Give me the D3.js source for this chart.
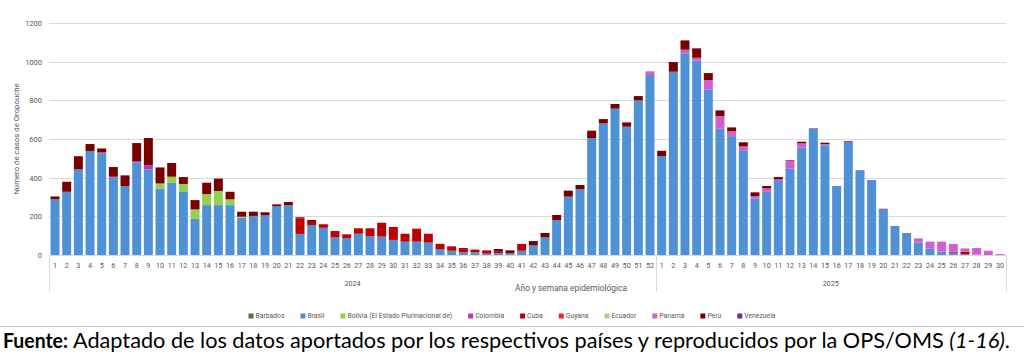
<!DOCTYPE html>
<html><head><meta charset="utf-8">
<script src="https://cdn.jsdelivr.net/npm/d3@7"></script>
<style>body{margin:0;background:#fff}svg{display:block}</style>
</head><body><svg id="c" width="1024" height="356"></svg>
<script>
// Week labels: 2024 weeks 1-52, 2025 weeks 1-30
const weeks2024 = ["1","2","3","4","5","6","7","8","9","10","11","12","13","14","15","16","17","18","19","20","21","22","23","24","25","26","27","28","29","30","31","32","33","34","35","36","37","38","39","40","41","42","43","44","45","46","47","48","49","50","51","52"];
const weeks2025 = ["1","2","3","4","5","6","7","8","9","10","11","12","13","14","15","16","17","18","19","20","21","22","23","24","25","26","27","28","29","30"];
const years = ["2024","2025"];
const yTicks = [0,200,400,600,800,1000,1200];
const countries = ["Barbados","Brasil","Bolivia (El Estado Plurinacional de)","Colombia","Cuba","Guyana","Ecuador","Panamá","Perú","Venezuela"];

const barbados = [0,0,0,0,0,0,0,0,0,0,0,0,0,0,0,0,0,0,0,0,0,0,0,0,0,0,0,0,0,0,0,0,0,0,0,0,0,0,0,0,0,0,0,0,0,0,0,0,0,0,0,0,
  0,0,0,0,0,0,0,0,0,0,0,0,0,0,0,0,0,0,0,0,0,0,0,0,0,0,0,0,0,0];
const brasil = [288,327,443,538,526,400,357,479,443,343,374,329,186,258,258,258,193,202,205,253,258,109,155,141,91,88,110,98,95,78,69,69,64,31,22,14,14,7,10,9,22,50,91,181,302,340,605,681,757,664,800,931,
  512,948,1043,1005,857,653,615,539,293,327,383,446,555,653,567,357,584,439,388,234,150,109,65,34,17,12,5,2,0,0];
const bolivia = [0,0,0,0,0,0,0,0,0,27,31,38,50,57,73,30,5,0,0,0,0,0,0,0,0,0,0,0,0,0,0,0,0,0,0,0,0,0,0,0,0,0,0,0,0,0,0,0,0,0,0,0,
  0,0,0,0,0,0,0,0,0,0,0,0,0,0,0,0,0,0,0,0,0,0,0,0,0,0,0,0,0,0];
const colombia = [0,0,0,0,5,5,0,5,22,0,0,0,0,0,0,0,0,0,0,0,0,0,0,0,0,0,0,0,0,0,0,0,0,0,0,0,0,0,0,0,0,0,0,0,0,0,0,0,0,0,0,0,
  0,0,0,0,0,0,0,0,0,0,0,0,0,0,0,0,0,0,0,0,0,0,0,0,0,0,0,0,0,0];
const cuba = [0,0,0,0,0,0,0,0,0,0,0,0,0,0,0,0,0,0,0,0,0,81,16,18,33,19,28,40,72,67,41,67,46,27,23,22,14,17,10,0,35,0,0,0,0,0,0,0,0,0,0,0,
  0,0,0,0,0,0,0,0,0,0,0,0,0,0,0,0,0,0,0,0,0,0,0,0,0,5,12,0,0,0];
const guyana = [0,0,0,0,0,0,0,0,0,0,0,0,0,0,0,0,0,0,0,0,0,0,0,0,0,0,0,0,0,0,0,0,0,0,0,0,0,0,0,0,0,0,0,0,0,0,0,0,0,0,0,0,
  0,0,0,0,0,0,0,0,0,0,0,0,0,0,0,0,0,0,0,0,0,0,0,0,0,0,0,0,0,0];
const ecuador = [0,0,0,0,0,0,0,0,0,0,0,0,0,0,0,0,0,0,0,0,0,0,0,0,0,0,0,0,0,0,0,0,0,0,0,0,0,0,0,0,0,0,0,0,0,0,0,0,0,0,0,0,
  0,0,0,0,0,0,0,0,0,0,0,0,0,0,0,0,0,0,0,0,0,0,0,0,0,0,0,0,0,0];
const panama = [0,0,0,0,0,0,0,0,0,0,0,0,0,0,0,0,0,0,0,0,0,0,0,0,0,0,0,0,0,0,0,0,0,0,0,0,0,0,0,0,0,0,0,0,0,0,0,0,0,0,0,19,
  0,0,19,15,48,66,25,23,12,18,8,42,22,0,6,0,0,0,0,2,0,0,21,35,52,40,17,34,22,5];
const peru = [15,52,68,36,20,50,55,95,140,83,71,36,48,59,64,39,26,22,16,9,16,5,10,0,0,0,0,0,0,0,0,0,0,0,0,0,0,0,11,15,0,22,23,26,31,22,38,22,24,22,22,0,
  27,50,48,49,36,29,20,21,19,12,12,3,9,2,8,0,4,0,0,3,0,3,0,0,0,0,0,0,0,0];
const venezuela = [0,0,0,0,0,0,0,0,0,0,0,0,0,0,0,0,0,0,0,0,0,0,0,0,0,0,0,0,0,0,0,0,0,0,0,0,0,0,0,0,0,0,0,0,0,0,0,0,0,0,0,0,
  0,0,0,0,0,0,0,0,0,0,0,0,0,0,0,0,0,0,0,0,0,0,0,0,0,0,0,0,0,0];

const seriesValues = [barbados,brasil,bolivia,colombia,cuba,guyana,ecuador,panama,peru,venezuela];
const colors = ["#4f7a2a","#4e91d6","#92d050","#b53cb5","#c00000","#ff1f1f","#a9d18e","#d05fd0","#7a0000","#6a2d96"];

const labels = weeks2024.concat(weeks2025);
const yearOf = labels.map((d,i)=> i < weeks2024.length ? years[0] : years[1]);
const rows = labels.map((w,i)=>{ const r={idx:i}; countries.forEach((c,k)=>r[c]=seriesValues[k][i]); return r; });

const svg = d3.select("#c");
svg.append("rect").attr("width",1024).attr("height",356).attr("fill","#fff");

const L=49.2, R=1005.8, T=23, B=255;
const x = d3.scaleBand().domain(d3.range(labels.length)).range([L,R]).paddingInner(0.23).paddingOuter(0.115);
const y = d3.scaleLinear().domain([0,1200]).range([B,T]);
const grey="#595959";

// gridlines
svg.append("g").selectAll("line").data(yTicks).join("line")
  .attr("x1",L).attr("x2",R).attr("y1",d=>Math.round(y(d))+0.5).attr("y2",d=>Math.round(y(d))+0.5)
  .attr("stroke","#d9d9d9").attr("stroke-width",1);
// y labels
svg.append("g").selectAll("text").data(yTicks).join("text")
  .attr("x",42).attr("y",d=>y(d)+3).attr("text-anchor","end")
  .attr("font-family","Roboto, sans-serif").attr("font-size",7.5).attr("fill",grey).text(d=>d);
svg.append("text").attr("transform","translate(19,139) rotate(-90)").attr("text-anchor","middle")
  .attr("font-family","Roboto, sans-serif").attr("font-size",7.8).attr("fill",grey).text("Número de casos de Oropouche");

// stacked bars
const stack = d3.stack().keys(countries)(rows);
svg.append("g").selectAll("g").data(stack).join("g").attr("fill",(d,i)=>colors[i])
  .selectAll("rect").data(d=>d.filter(s=>s[1]-s[0]>0)).join("rect")
  .attr("x",d=>x(d.data.idx)).attr("width",x.bandwidth())
  .attr("y",d=>y(d[1])).attr("height",d=>y(d[0])-y(d[1]));

// x tick labels
svg.append("g").selectAll("text").data(labels).join("text")
  .attr("x",(d,i)=>x(i)+x.bandwidth()/2).attr("y",268).attr("text-anchor","middle")
  .attr("font-family","Roboto, sans-serif").attr("font-size",7.2).attr("fill",grey).text(d=>d);

// year group separators and labels
const groupEdges = years.map(yr=>{
  const idx = yearOf.map((v,i)=>v===yr?i:-1).filter(i=>i>=0);
  const a = x(idx[0]) - x.step()*x.paddingInner()/2;
  const b = x(idx[idx.length-1]) + x.bandwidth() + x.step()*x.paddingInner()/2;
  return {yr,a,b};
});
const sepX = [groupEdges[0].a, groupEdges[1].a, groupEdges[1].b].map(v=>Math.round(v)+0.5);
svg.append("g").selectAll("line").data(sepX).join("line")
  .attr("x1",d=>d).attr("x2",d=>d).attr("y1",B).attr("y2",291)
  .attr("stroke","#d9d9d9").attr("stroke-width",1);
svg.append("g").selectAll("text").data(groupEdges).join("text")
  .attr("x",d=>(d.a+d.b)/2).attr("y",286).attr("text-anchor","middle")
  .attr("font-family","Roboto, sans-serif").attr("font-size",7.2).attr("fill",grey).text(d=>d.yr);
svg.append("text").attr("x",571).attr("y",291).attr("text-anchor","middle")
  .attr("font-family","Roboto, sans-serif").attr("font-size",8.4).attr("fill",grey).text("Año y semana epidemiológica");

// legend: measured items, spread evenly, centred on the chart
const legFont = 6.8, legGap = 16, sw = 5;
const leg = svg.append("g");
const items = leg.selectAll("g").data(countries).join("g");
items.append("rect").attr("x",0).attr("y",-2.5).attr("width",sw).attr("height",sw).attr("fill",(d,i)=>colors[i]);
items.append("text").attr("x",sw+2).attr("y",2.4).attr("font-family","Roboto, sans-serif").attr("font-size",legFont)
  .attr("fill",grey).text(d=>d);
const widths = [];
items.each(function(){ widths.push(sw+2+d3.select(this).select("text").node().getComputedTextLength()); });
const total = d3.sum(widths) + legGap*(widths.length-1);
let cx = 512 - total/2;
items.attr("transform",(d,i)=>{ const t=`translate(${cx},316)`; cx += widths[i]+legGap; return t; });

// separator line and footer
svg.append("line").attr("x1",0).attr("x2",1024).attr("y1",326.5).attr("y2",326.5).attr("stroke","#c8c8c8");
svg.append("text").attr("x",3).attr("y",348).attr("font-family","Lato, sans-serif").attr("font-weight","bold")
  .attr("font-size",21).attr("fill","#000").attr("textLength",65).attr("lengthAdjust","spacingAndGlyphs").text("Fuente:");
const ft = svg.append("text").attr("x",73).attr("y",348).attr("font-family","Lato, sans-serif")
  .attr("font-size",21).attr("fill","#000").attr("textLength",937).attr("lengthAdjust","spacingAndGlyphs");
ft.append("tspan").text("Adaptado de los datos aportados por los respectivos países y reproducidos por la OPS/OMS ");
ft.append("tspan").attr("font-style","italic").text("(1-16)");
ft.append("tspan").text(".");
</script></body></html>
